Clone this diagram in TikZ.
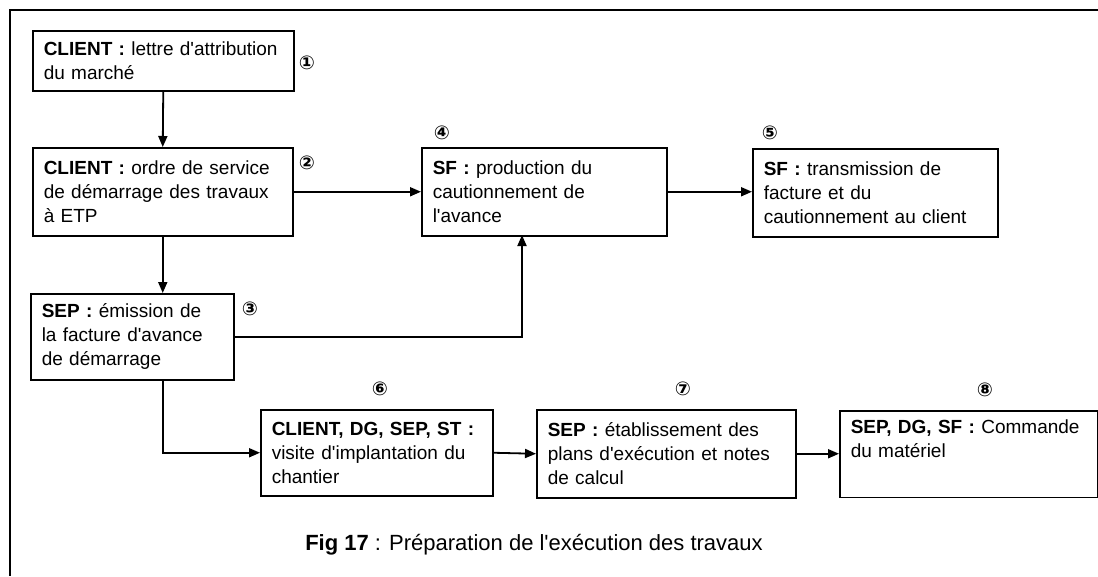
\documentclass[tikz,border=0pt]{standalone}
\usepackage{fontspec}
\setmainfont{Liberation Sans}
\newfontfamily\numfont{DejaVu Sans}
\usetikzlibrary{arrows.meta}
\newcommand{\apos}{\textquotesingle}

\begin{document}
\begin{tikzpicture}[x=1pt, y=-1pt,
    every node/.style={font=\fontsize{19}{24}\selectfont},
    stepbox/.style={draw, line width=1.5pt, anchor=north west, align=left, inner xsep=11pt, inner ysep=9pt},
    num/.style={font=\numfont\bfseries\fontsize{19}{19}\selectfont},
    link/.style={line width=1.8pt, -{Triangle[length=11pt, width=9pt]}}]
    \useasboundingbox (0,0) rectangle (1098,576);
    % cadre
    \draw[line width=1.2pt] (1098,10) -- (10,10) -- (10,576);

    % etapes
    \node[stepbox, text width=239pt, minimum height=60pt] (b1) at (32,30)
        {\textbf{CLIENT :} lettre d\apos attribution\\du marché};
    \node[stepbox, text width=238pt, minimum height=88pt] (b2) at (32,147)
        {\textbf{CLIENT :} ordre de service\\de démarrage des travaux\\à ETP};
    \node[stepbox, text width=181pt, minimum height=86pt] (b3) at (30,293)
        {\textbf{SEP :} émission de\\la facture d\apos avance\\de démarrage};
    \node[stepbox, text width=223pt, minimum height=88pt] (b4) at (421,147)
        {\textbf{SF :} production du\\cautionnement de\\l\apos avance};
    \node[stepbox, text width=223pt, minimum height=88pt] (b5) at (752,148)
        {\textbf{SF :} transmission de\\facture et du\\cautionnement au client};
    \node[stepbox, text width=210pt, minimum height=86pt] (b6) at (260,409)
        {\textbf{CLIENT, DG, SEP, ST :}\\visite d\apos implantation du\\chantier};
    \node[stepbox, text width=237pt, minimum height=88pt] (b7) at (536,409)
        {\textbf{SEP :} établissement des\\plans d\apos exécution et notes\\de calcul};
    \node[stepbox, text width=236pt, minimum height=86pt] (b8) at (839,410)
        {\textbf{SEP, DG, SF :} Commande\\du matériel\\\strut};

    % numeros
    \node[num] (n1) at (307,63) {①};
    \node[num] (n2) at (307,163) {②};
    \node[num] (n3) at (250,309) {③};
    \node[num] (n4) at (442,133) {④};
    \node[num] (n5) at (770,133) {⑤};
    \node[num] (n6) at (380,389) {⑥};
    \node[num] (n7) at (683,389) {⑦};
    \node[num] (n8) at (985,390) {⑧};

    % liaisons
    \coordinate (b4in) at (522,235);
    \draw[link] (b1.south) -- (b2.north);
    \draw[link] (b2.east) -- (b4.west);
    \draw[link] (b4.east) -- (b4.east -| b5.west);
    \draw[link] (b2.south) -- (b2.south |- b3.north);
    \draw[link] (b3.east) -| (b4in);
    \draw[link] (b2.south |- b3.south) |- (b6.west);
    \draw[link] (b6.east) -- (b7.west);
    \draw[link] (b7.east) -- (b7.east -| b8.west);

    \node[font=\fontsize{22}{26}\selectfont] (cap) at (534,545)
        {\textbf{Fig 17} : Préparation de l\apos exécution des travaux};
\end{tikzpicture}
\end{document}
